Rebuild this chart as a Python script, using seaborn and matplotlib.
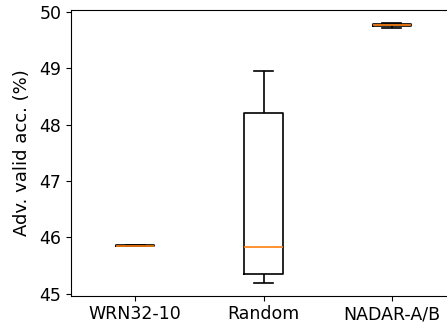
import matplotlib
matplotlib.use("Agg")
import matplotlib.pyplot as plt
import seaborn as sns
import pandas as pd

models = ["WRN32-10", "Random", "NADAR-A/B"]
wrn_vals = [45.849, 45.852, 45.855, 45.857, 45.860]
random_vals = [45.20, 45.355, 45.83, 48.21, 48.95]
nadar_vals = [49.715, 49.745, 49.765, 49.785, 49.805]
ylabel = "Adv. valid acc. (%)"

df = pd.DataFrame({
    "model": [models[0]] * len(wrn_vals) + [models[1]] * len(random_vals) + [models[2]] * len(nadar_vals),
    "acc": wrn_vals + random_vals + nadar_vals,
})

plt.rcParams["font.family"] = ["DejaVu Sans"]
fig = plt.figure(figsize=(4.47, 3.29), dpi=100)
ax = fig.add_axes([71 / 447, (329 - 295.5) / 329, 385 / 447, (295.5 - 10) / 329])

sns.boxplot(
    data=df, x="model", y="acc", order=models, ax=ax,
    width=0.3, fill=False, color="black", linewidth=1.2,
    medianprops={"color": "#ff7f0e", "linewidth": 1.2},
    whis=1.5,
)
ax.set_xlim(-0.5, 2.5)
ax.set_xlabel("")
ax.set_ylabel(ylabel, fontsize=13, labelpad=6)
ax.tick_params(labelsize=12.5)
for s in ax.spines.values():
    s.set_visible(True)
fig.savefig("out.png", dpi=100)
